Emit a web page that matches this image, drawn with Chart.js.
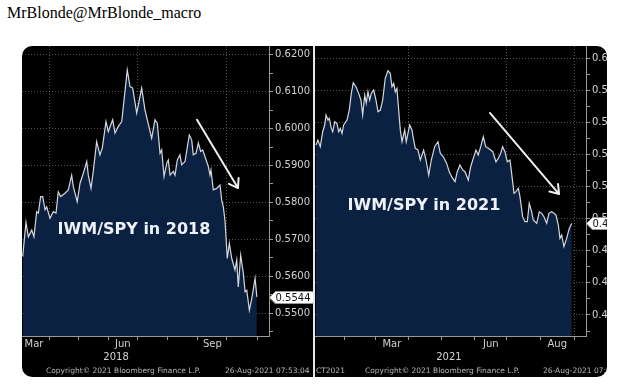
<!DOCTYPE html>
<html>
<head>
<meta charset="utf-8">
<script src="https://cdn.jsdelivr.net/npm/chart.js@4.4.1/dist/chart.umd.min.js"></script>
<style>
  html, body { margin: 0; padding: 0; background: #fff; width: 620px; height: 386px; overflow: hidden; }
  #header { position: absolute; left: 7px; top: 4px; font: 16px "Liberation Serif", serif; color: #000; white-space: nowrap; }
  #frame { position: absolute; left: 22px; top: 46px; width: 585px; height: 331px; background: #000; border-radius: 10px; overflow: hidden; }
  #leftChart { position: absolute; left: 0; top: 0; }
  #rightChart { position: absolute; left: 293px; top: 0; }
  #sep { position: absolute; left: 291px; top: 0; width: 2px; height: 331px; background: #e6e6e6; }
  .foot { position: absolute; top: 320px; font: 7.5px "DejaVu Sans", sans-serif; color: #b8b8b8; white-space: nowrap; }
</style>
</head>
<body>
<div id="header">MrBlonde@MrBlonde_macro</div>
<div id="frame">
  <canvas id="leftChart" width="291" height="331"></canvas>
  <div id="sep"></div>
  <canvas id="rightChart" width="292" height="331"></canvas>
  <div class="foot" style="left:24px">Copyright© 2021 Bloomberg Finance L.P.</div>
  <div class="foot" style="left:203px">26-Aug-2021 07:53:04</div>
  <div class="foot" style="left:294px">CT2021</div>
  <div class="foot" style="left:343px">Copyright© 2021 Bloomberg Finance L.P.</div>
  <div class="foot" style="left:521px">26-Aug-2021 07:53:04</div>
</div>
<script>
// === 2018 panel: x = days since 1-Mar-2018 ===
const leftDays = [3.9, 7.3, 9.7, 13.2, 15.5, 18.3, 20, 22.4, 24.5, 26.9,
    28.6, 32, 35.4, 38.2, 40.5, 43, 47.4, 50.8, 54.3, 56,
    60, 62.9, 66.3, 69.8, 71.4, 74.2, 76.5, 80, 83.4, 85.8,
    89.6, 92, 94.4, 96.5, 98.9, 102.3, 105.8, 111.5, 114.3, 117.1,
    121.2, 126.3, 129.7, 136.6, 140, 142.4, 145.2, 146.9, 149.3, 152.1,
    153.7, 155.5, 158.8, 160.6, 163, 165.7, 167.5, 170.9, 175.3, 177.8,
    179.4, 182.2, 184.6, 187, 189.1, 191.5, 194.9, 196.6, 197.6, 200,
    203.5, 206.9, 208.6, 210.3, 212, 214.4, 216.5, 219, 222.3, 224.1,
    225.7, 228.2, 230.9, 232.7, 234.4, 237.1, 239.6, 243, 244.8];
const leftVals = [0.5653, 0.5746, 0.5707, 0.5725, 0.5707, 0.5775, 0.5771, 0.5816, 0.5816, 0.5780,
    0.5788, 0.5757, 0.5775, 0.5771, 0.5829, 0.5816, 0.5825, 0.5834, 0.5874, 0.5843,
    0.5802, 0.5852, 0.5879, 0.5911, 0.5874, 0.5838, 0.5884, 0.5965, 0.5929, 0.5947,
    0.6019, 0.5992, 0.6010, 0.6024, 0.5988, 0.6006, 0.6019, 0.6159, 0.6114, 0.6110,
    0.6042, 0.6110, 0.6051, 0.5974, 0.6024, 0.6015, 0.5933, 0.5942, 0.5870, 0.5906,
    0.5915, 0.5874, 0.5884, 0.5874, 0.5915, 0.5929, 0.5902, 0.5911, 0.5983, 0.5969,
    0.5929, 0.5933, 0.5961, 0.5938, 0.5942, 0.5924, 0.5897, 0.5874, 0.5888, 0.5834,
    0.5838, 0.5847, 0.5807, 0.5788, 0.5752, 0.5648, 0.5689, 0.5648, 0.5617, 0.5644,
    0.5571, 0.5657, 0.5608, 0.5558, 0.5562, 0.5508, 0.5540, 0.5594, 0.5544];
const leftYTicks = [0.55, 0.56, 0.57, 0.58, 0.59, 0.60, 0.61, 0.62];
const leftMonthStarts = [0, 31, 61, 92, 122, 153, 184, 214, 245, 275];
const leftMonthNames = ['Mar', 'Apr', 'May', 'Jun', 'Jul', 'Aug', 'Sep', 'Oct', 'Nov'];
const leftShownMonths = ['Mar', 'Jun', 'Sep'];
const leftGridMonths = ['Apr', 'Jul', 'Oct'];

// === 2021 panel: x = days since 1-Jan-2021 ===
const rightDays = [4.3, 6.1, 8.3, 10.5, 12.4, 13.6, 15.4, 16.6, 18.5, 19.8,
    21.6, 23.7, 25.3, 26.8, 28.4, 29.9, 33, 35.1, 37, 38.8,
    41.3, 43.8, 45.9, 47.5, 49.4, 50.8, 52.4, 54, 55.5, 57.7,
    59.8, 61.7, 63.8, 66, 68.4, 70.9, 73, 74.6, 76.2, 77.7,
    79.2, 80.8, 82.3, 83.9, 86.4, 87.8, 91, 93.1, 94.7, 96.2,
    98.7, 100.8, 103.9, 106.1, 108.6, 111, 114.1, 117.2, 119.3, 122.1,
    125.2, 127.6, 129.8, 132.9, 135, 137.5, 140, 142.1, 145.2, 147.4,
    149.8, 152.3, 154.4, 156.7, 159.1, 161.3, 163.7, 165.9, 167.8, 170.8,
    172.9, 175.2, 177, 179.1, 181.3, 183.8, 185.3, 187.5, 189.3, 191.5,
    193, 195.5, 197.6, 199.8, 201.6, 203.8, 205.3, 208.5, 210.9, 213.1,
    215.2, 217.7, 219.8, 222.3, 224.5, 226.3, 228.5, 230, 231.6, 233.7,
    236.2, 238.6, 240.9];
const rightVals = [0.5458, 0.5489, 0.5448, 0.5541, 0.5583, 0.5645, 0.5614, 0.5625, 0.5562, 0.5541,
    0.5603, 0.5593, 0.5541, 0.5562, 0.5531, 0.5583, 0.5614, 0.5676, 0.5780, 0.5846,
    0.5821, 0.5780, 0.5738, 0.5645, 0.5770, 0.5718, 0.5790, 0.5738, 0.5780, 0.5801,
    0.5738, 0.5666, 0.5676, 0.5738, 0.5874, 0.5921, 0.5905, 0.5821, 0.5842, 0.5790,
    0.5811, 0.5676, 0.5552, 0.5479, 0.5552, 0.5479, 0.5583, 0.5552, 0.5489, 0.5438,
    0.5427, 0.5365, 0.5427, 0.5365, 0.5271, 0.5365, 0.5448, 0.5479, 0.5407, 0.5385,
    0.5344, 0.5292, 0.5261, 0.5230, 0.5292, 0.5334, 0.5303, 0.5292, 0.5240, 0.5323,
    0.5375, 0.5427, 0.5396, 0.5448, 0.5510, 0.5448, 0.5438, 0.5427, 0.5417, 0.5354,
    0.5375, 0.5407, 0.5448, 0.5417, 0.5354, 0.5365, 0.5282, 0.5158, 0.5168, 0.5189,
    0.5137, 0.5012, 0.4981, 0.4981, 0.5095, 0.5043, 0.4991, 0.4971, 0.5043, 0.5033,
    0.5012, 0.4971, 0.5033, 0.5043, 0.5033, 0.5022, 0.4960, 0.4877, 0.4898, 0.4825,
    0.4877, 0.4939, 0.4970];
const rightYTicks = [0.44, 0.46, 0.48, 0.50, 0.52, 0.54, 0.56, 0.58, 0.60];
const rightMonthStarts = [0, 31, 59, 90, 120, 151, 181, 212, 243, 273];
const rightMonthNames = ['Jan', 'Feb', 'Mar', 'Apr', 'May', 'Jun', 'Jul', 'Aug', 'Sep'];
const rightShownMonths = ['Mar', 'Jun', 'Aug'];
const rightGridMonths = ['Apr', 'Jul', 'Sep'];

const TEXT = '#d2d2d2';
const AXIS = '#9a9a9a';
const GRID = 'rgba(150,150,150,0.55)';

Chart.defaults.font.family = '"DejaVu Sans", sans-serif';
Chart.defaults.font.size = 10;

function monthTicks(p) {
    const out = [];
    p.monthStarts.forEach((d, i) => {
        if (d >= p.xMin && d <= p.xMax) out.push({ value: d, edge: true, grid: p.gridMonths.includes(p.monthNames[i]), lbl: '' });
    });
    p.monthNames.forEach((m, i) => {
        if (p.shownMonths.includes(m)) out.push({ value: (p.monthStarts[i] + p.monthStarts[i + 1]) / 2, lbl: m });
    });
    out.push({ value: p.yearAt, lbl: ['', p.year] });
    return out.sort((a, b) => a.value - b.value);
}

function valueTicks(p) {
    const out = [];
    const step = p.yTicks[1] - p.yTicks[0];
    p.yTicks.forEach(v => {
        out.push({ value: v, lbl: v.toFixed(4) });
        [v - step / 2, v + step / 2].forEach(h => {
            if (h >= p.yMin && h <= p.yMax && !out.some(t => Math.abs(t.value - h) < 1e-6)) out.push({ value: h, lbl: '' });
        });
    });
    return out.sort((a, b) => a.value - b.value);
}

// arrows, caption and the last-value tag
const overlay = {
    id: 'overlay',
    afterDraw(chart, args, o) {
        const { ctx, scales: { x, y } } = chart;
        ctx.save();
        const x0 = x.getPixelForValue(o.arrow[0]), y0 = y.getPixelForValue(o.arrow[1]);
        const x1 = x.getPixelForValue(o.arrow[2]), y1 = y.getPixelForValue(o.arrow[3]);
        const ang = Math.atan2(y1 - y0, x1 - x0);
        ctx.strokeStyle = '#f0f0f0';
        ctx.lineWidth = 2;
        ctx.lineCap = 'round';
        ctx.beginPath();
        ctx.moveTo(x0, y0);
        ctx.lineTo(x1, y1);
        [0.6, -0.6].forEach(s => {
            ctx.moveTo(x1, y1);
            ctx.lineTo(x1 - 10 * Math.cos(ang + s), y1 - 10 * Math.sin(ang + s));
        });
        ctx.stroke();

        ctx.fillStyle = '#eef2f7';
        ctx.font = 'bold 16px "DejaVu Sans"';
        ctx.textAlign = 'center';
        ctx.textBaseline = 'middle';
        ctx.fillText(o.note, x.getPixelForValue(o.noteAt[0]), y.getPixelForValue(o.noteAt[1]));

        const last = chart.data.datasets[0].data.at(-1).y;
        const ty = Math.round(y.getPixelForValue(last)) + 0.5;
        const tx = y.left + 0.5;
        ctx.beginPath();
        ctx.moveTo(tx, ty);
        ctx.lineTo(tx + 6, ty - 6);
        ctx.lineTo(tx + 42, ty - 6);
        ctx.quadraticCurveTo(tx + 45, ty - 6, tx + 45, ty - 3);
        ctx.lineTo(tx + 45, ty + 3);
        ctx.quadraticCurveTo(tx + 45, ty + 6, tx + 42, ty + 6);
        ctx.lineTo(tx + 6, ty + 6);
        ctx.closePath();
        ctx.fillStyle = '#fff';
        ctx.fill();
        ctx.strokeStyle = '#999';
        ctx.lineWidth = 1;
        ctx.stroke();
        ctx.fillStyle = '#111';
        ctx.font = '10px "DejaVu Sans"';
        ctx.textAlign = 'left';
        ctx.fillText(last.toFixed(4), tx + 6, ty + 0.5);
        ctx.restore();
    }
};

function buildPanel(id, p) {
    new Chart(document.getElementById(id), {
        type: 'line',
        data: {
            datasets: [{
                data: p.days.map((d, i) => ({ x: d, y: p.vals[i] })),
                borderColor: '#d4d8de',
                borderWidth: 1.2,
                backgroundColor: '#0b2141',
                fill: 'start',
                pointRadius: 0,
                tension: 0
            }]
        },
        plugins: [overlay],
        options: {
            responsive: false,
            animation: false,
            events: [],
            layout: { padding: 0 },
            plugins: {
                legend: { display: false },
                tooltip: { enabled: false },
                overlay: { arrow: p.arrow, note: p.note, noteAt: p.noteAt }
            },
            scales: {
                x: {
                    type: 'linear', min: p.xMin, max: p.xMax, z: 1,
                    afterBuildTicks: s => { s.ticks = monthTicks(p); },
                    afterFit: s => { s.height = 41; s.paddingLeft = 0; s.paddingRight = 0; },
                    grid: {
                        color: c => (c.tick && c.tick.grid ? GRID : 'transparent'),
                        tickColor: c => (c.tick && c.tick.edge ? AXIS : 'transparent'),
                        tickLength: 4
                    },
                    border: { display: true, color: AXIS, dash: [1, 2] },
                    ticks: {
                        autoSkip: false, maxRotation: 0, color: TEXT, padding: -2,
                        font: { size: 10, lineHeight: 1.3 },
                        callback: (v, i, ticks) => ticks[i].lbl
                    }
                },
                y: {
                    type: 'linear', position: 'right', min: p.yMin, max: p.yMax, z: 1,
                    afterBuildTicks: s => { s.ticks = valueTicks(p); },
                    afterFit: s => { s.width = p.axisWidth; s.paddingTop = 0; s.paddingBottom = 0; },
                    grid: {
                        color: c => (c.tick && c.tick.lbl ? GRID : 'transparent'),
                        tickColor: AXIS,
                        tickLength: 4
                    },
                    border: { display: true, color: AXIS, dash: [1, 2] },
                    ticks: {
                        autoSkip: false, color: TEXT, padding: 2,
                        callback: (v, i, ticks) => ticks[i].lbl
                    }
                }
            }
        }
    });
}

buildPanel('leftChart', {
    days: leftDays, vals: leftVals,
    xMin: 3.2, xMax: 257.3, yMin: 0.5438, yMax: 0.6224, axisWidth: 44,
    yTicks: leftYTicks,
    monthStarts: leftMonthStarts, monthNames: leftMonthNames,
    shownMonths: leftShownMonths, gridMonths: leftGridMonths,
    year: '2018', yearAt: 100,
    arrow: [183.2, 0.6024, 225.4, 0.5839],
    note: 'IWM/SPY in 2018', noteAt: [118.4, 0.5725]
});

buildPanel('rightChart', {
    days: rightDays, vals: rightVals,
    xMin: 3.4, xMax: 254.1, yMin: 0.4269, yMax: 0.6075, axisWidth: 21,
    yTicks: rightYTicks,
    monthStarts: rightMonthStarts, monthNames: rightMonthNames,
    shownMonths: rightShownMonths, gridMonths: rightGridMonths,
    year: '2021', yearAt: 127.3,
    arrow: [165.2, 0.5658, 229.2, 0.5153],
    note: 'IWM/SPY in 2021', noteAt: [104.2, 0.5082]
});
</script>
</body>
</html>
